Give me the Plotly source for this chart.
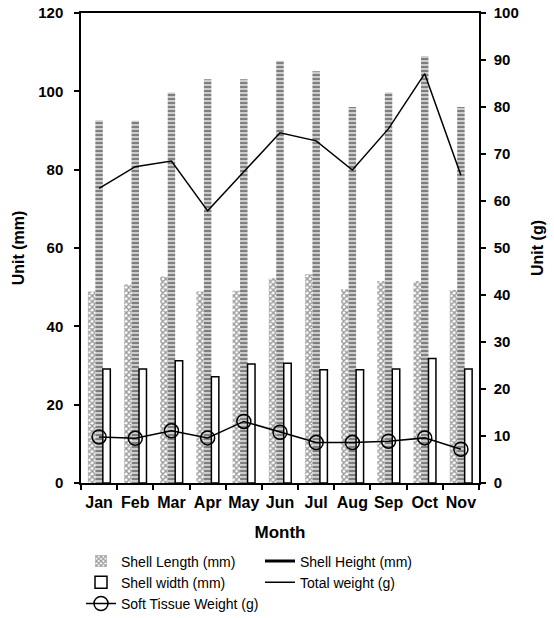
import plotly.graph_objects as go

months = ["Jan", "Feb", "Mar", "Apr", "May", "Jun", "Jul", "Aug", "Sep", "Oct", "Nov"]
shell_length = [48.9, 50.7, 52.7, 48.9, 49.1, 52.3, 53.3, 49.5, 51.6, 51.6, 49.3]
shell_height = [92.6, 92.5, 99.7, 103.1, 103.1, 107.8, 105.1, 96.0, 99.7, 109.0, 96.0]
shell_width = [29.1, 29.1, 31.2, 27.1, 30.4, 30.6, 28.9, 28.9, 29.1, 31.8, 29.1]
total_weight = [62.7, 67.3, 68.5, 57.9, 66.2, 74.5, 72.8, 66.6, 75.4, 87.1, 65.5]
soft_tissue = [9.8, 9.5, 11.1, 9.6, 13.1, 10.8, 8.6, 8.6, 8.9, 9.6, 7.2]

FONT = "Liberation Sans, Arial, sans-serif"

fig = go.Figure()
fig.add_trace(go.Bar(
    x=months, y=shell_length, name="Shell Length (mm)", legendrank=1,
    marker=dict(color="white", line=dict(width=0),
                pattern=dict(shape="x", fgcolor="#333333", bgcolor="white", size=4, solidity=0.6)),
    yaxis="y"))
fig.add_trace(go.Bar(
    x=months, y=shell_height, name="Shell Height (mm)", showlegend=False,
    marker=dict(color="white", line=dict(width=0),
                pattern=dict(shape="-", fgcolor="black", bgcolor="white", size=4, solidity=0.7)),
    yaxis="y"))
fig.add_trace(go.Bar(
    x=months, y=shell_width, name="Shell width (mm)", legendrank=3,
    marker=dict(color="white", line=dict(color="black", width=1.5)),
    yaxis="y"))
# legend-only entry for Shell Height (drawn as thick line in the legend)
fig.add_trace(go.Scatter(
    x=[None], y=[None], mode="lines", name="Shell Height (mm)", legendrank=2,
    line=dict(color="black", width=3), yaxis="y"))
fig.add_trace(go.Scatter(
    x=months, y=total_weight, mode="lines", name="Total weight (g)", legendrank=4,
    line=dict(color="black", width=1.5), yaxis="y2"))
fig.add_trace(go.Scatter(
    x=months, y=soft_tissue, mode="lines+markers", name="Soft Tissue Weight (g)", legendrank=5,
    line=dict(color="black", width=1.5),
    marker=dict(symbol="circle-open", size=14, color="black", line=dict(width=1.5)),
    yaxis="y2"))

fig.update_layout(
    width=554, height=618,
    margin=dict(l=81, r=75, t=13, b=135, autoexpand=False),
    paper_bgcolor="white", plot_bgcolor="white",
    barmode="group", bargap=0.38, bargroupgap=0,
    font=dict(family=FONT, color="black"),
    showlegend=True,
    legend=dict(orientation="h", x=0.0, xanchor="left", y=-0.133, yanchor="top",
                entrywidth=134, font=dict(size=14, family=FONT, color="black"),
                bgcolor="rgba(0,0,0,0)", traceorder="normal"),
    xaxis=dict(
        title=dict(text="<b>Month</b>", font=dict(size=17), standoff=16),
        tickfont=dict(size=16, family=FONT), tickangle=0, ticklabelstandoff=4,
        range=[-0.5, len(months) - 0.5],
        tickmode="array", tickvals=months, ticktext=["<b>%s</b>" % m for m in months],
        showline=True, linecolor="black", linewidth=1.5, mirror=True,
        ticks="outside", ticklen=5, tickwidth=1.5, tickcolor="black",
        tickson="boundaries", showgrid=False, zeroline=False),
    yaxis=dict(
        title=dict(text="<b>Unit (mm)</b>", font=dict(size=16), standoff=10),
        range=[0, 120], tickvals=[0, 20, 40, 60, 80, 100, 120],
        ticktext=["<b>%d</b>" % v for v in [0, 20, 40, 60, 80, 100, 120]],
        tickfont=dict(size=15), ticklabelstandoff=8,
        showline=True, linecolor="black", linewidth=1.5,
        ticks="outside", ticklen=5, tickwidth=1.5, tickcolor="black",
        showgrid=False, zeroline=False),
    yaxis2=dict(
        title=dict(text="<b>Unit (g)</b>", font=dict(size=16), standoff=14),
        range=[0, 100], tickvals=list(range(0, 101, 10)),
        ticktext=["<b>%d</b>" % v for v in range(0, 101, 10)],
        tickfont=dict(size=15), ticklabelstandoff=5,
        overlaying="y", side="right",
        showline=True, linecolor="black", linewidth=1.5,
        ticks="outside", ticklen=5, tickwidth=1.5, tickcolor="black",
        showgrid=False, zeroline=False),
)

fig.write_html("out.html", config={"displayModeBar": False},
               post_script="document.body.style.margin='0';")
